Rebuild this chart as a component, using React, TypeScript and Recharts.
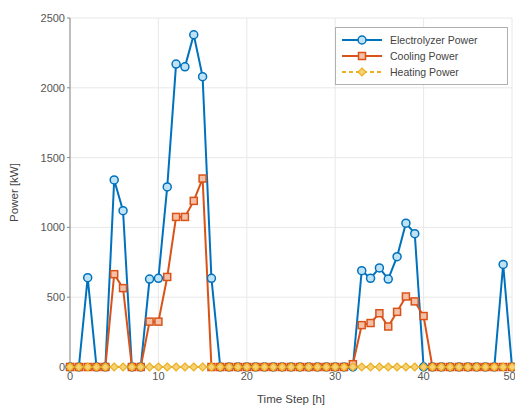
import React from "react";
import {
  LineChart,
  Line,
  XAxis,
  YAxis,
  CartesianGrid,
} from "recharts";

// time steps 0..50
const timeSteps = Array.from({ length: 51 }, (_, i) => i);

const electrolyzerPower = [
  0, 0, 640, 0, 0, 1340, 1120, 0, 0, 630,
  635, 1290, 2170, 2150, 2380, 2080, 635, 0, 0, 0,
  0, 0, 0, 0, 0, 0, 0, 0, 0, 0,
  0, 0, 0, 690, 635, 710, 630, 790, 1030, 955,
  0, 0, 0, 0, 0, 0, 0, 0, 0, 735,
  0,
];

const coolingPower = [
  0, 0, 0, 0, 0, 665, 565, 0, 0, 325,
  325, 645, 1075, 1075, 1190, 1350, 0, 0, 0, 0,
  0, 0, 0, 0, 0, 0, 0, 0, 0, 0,
  0, 0, 20, 300, 315, 385, 290, 395, 505, 470,
  365, 0, 0, 0, 0, 0, 0, 0, 0, 0,
  0,
];

const heatingPower = timeSteps.map(() => 0);

const xTicks = [0, 10, 20, 30, 40, 50];
const yTicks = [0, 500, 1000, 1500, 2000, 2500];

const BLUE = "#0072BD";
const ORANGE = "#D95319";
const YELLOW = "#EDB120";

const data = timeSteps.map((t, i) => ({
  t,
  electrolyzer: electrolyzerPower[i],
  cooling: coolingPower[i],
  heating: heatingPower[i],
}));

const CircleDot = (props: any) => {
  const { cx, cy } = props;
  if (cx == null || cy == null) return null;
  return <circle cx={cx} cy={cy} r={4} fill="#bfe3f5" stroke={BLUE} strokeWidth={1.5} />;
};

const SquareDot = (props: any) => {
  const { cx, cy } = props;
  if (cx == null || cy == null) return null;
  return <rect x={cx - 3.5} y={cy - 3.5} width={7} height={7} fill="#f4c0a8" stroke={ORANGE} strokeWidth={1.5} />;
};

const DiamondDot = (props: any) => {
  const { cx, cy } = props;
  if (cx == null || cy == null) return null;
  return (
    <polygon
      points={`${cx},${cy - 4} ${cx + 4},${cy} ${cx},${cy + 4} ${cx - 4},${cy}`}
      fill="#f5d27a"
      stroke={YELLOW}
      strokeWidth={1.2}
    />
  );
};

const legendItems = [
  { label: "Electrolyzer Power", color: BLUE, dash: undefined, marker: "circle" },
  { label: "Cooling Power", color: ORANGE, dash: undefined, marker: "square" },
  { label: "Heating Power", color: YELLOW, dash: "4 3", marker: "diamond" },
];

const LegendBox = () => (
  <div
    style={{
      position: "absolute",
      left: 335,
      top: 27,
      width: 173,
      border: "1px solid #b0b0b0",
      background: "#fff",
      padding: "4px 4px 4px 4px",
      fontFamily: "Liberation Sans, Arial, sans-serif",
      fontSize: 10.5,
      color: "#444",
      boxSizing: "border-box",
    }}
  >
    {legendItems.map((it) => (
      <div key={it.label} style={{ display: "flex", alignItems: "center", height: 16 }}>
        <svg width={44} height={12} style={{ marginRight: 6 }}>
          <line x1={2} y1={6} x2={42} y2={6} stroke={it.color} strokeWidth={2} strokeDasharray={it.dash} />
          {it.marker === "circle" && <CircleDot cx={22} cy={6} />}
          {it.marker === "square" && <SquareDot cx={22} cy={6} />}
          {it.marker === "diamond" && <DiamondDot cx={22} cy={6} />}
        </svg>
        <span>{it.label}</span>
      </div>
    ))}
  </div>
);

export default function App() {
  const tickStyle = { fontSize: 11, fill: "#555", fontFamily: "Liberation Sans, Arial, sans-serif" };
  return (
    <div style={{ position: "absolute", left: 0, top: 0, width: 515, height: 409, background: "#fff" }}>
      <LineChart
        width={515}
        height={409}
        data={data}
        margin={{ top: 18, right: 3, bottom: 0, left: 0 }}
      >
        <CartesianGrid stroke="#e8e8e8" />
        <XAxis
          dataKey="t"
          type="number"
          domain={[0, 50]}
          ticks={xTicks}
          tick={tickStyle}
          stroke="#888"
          tickSize={3}
          height={42}
          label={{
            value: "Time Step [h]",
            position: "insideBottom",
            offset: 6,
            style: { fontSize: 11.5, fill: "#444", fontFamily: "Liberation Sans, Arial, sans-serif" },
          }}
        />
        <XAxis xAxisId="top" orientation="top" type="number" domain={[0, 50]} height={0} tick={false} stroke="#888" />
        <YAxis
          type="number"
          domain={[0, 2500]}
          ticks={yTicks}
          tick={tickStyle}
          stroke="#888"
          tickSize={3}
          width={70}
          label={{
            value: "Power [kW]",
            angle: -90,
            position: "insideLeft",
            offset: 14,
            style: { fontSize: 11.5, fill: "#444", textAnchor: "middle", fontFamily: "Liberation Sans, Arial, sans-serif" },
          }}
        />
        <YAxis yAxisId="right" orientation="right" domain={[0, 2500]} width={0} tick={false} stroke="#888" />
        <Line
          type="linear"
          dataKey="electrolyzer"
          stroke={BLUE}
          strokeWidth={2}
          dot={<CircleDot />}
          isAnimationActive={false}
        />
        <Line
          type="linear"
          dataKey="cooling"
          stroke={ORANGE}
          strokeWidth={2}
          dot={<SquareDot />}
          isAnimationActive={false}
        />
        <Line
          type="linear"
          dataKey="heating"
          stroke={YELLOW}
          strokeWidth={2}
          strokeDasharray="5 3"
          dot={<DiamondDot />}
          isAnimationActive={false}
        />
      </LineChart>
      <LegendBox />
    </div>
  );
}
